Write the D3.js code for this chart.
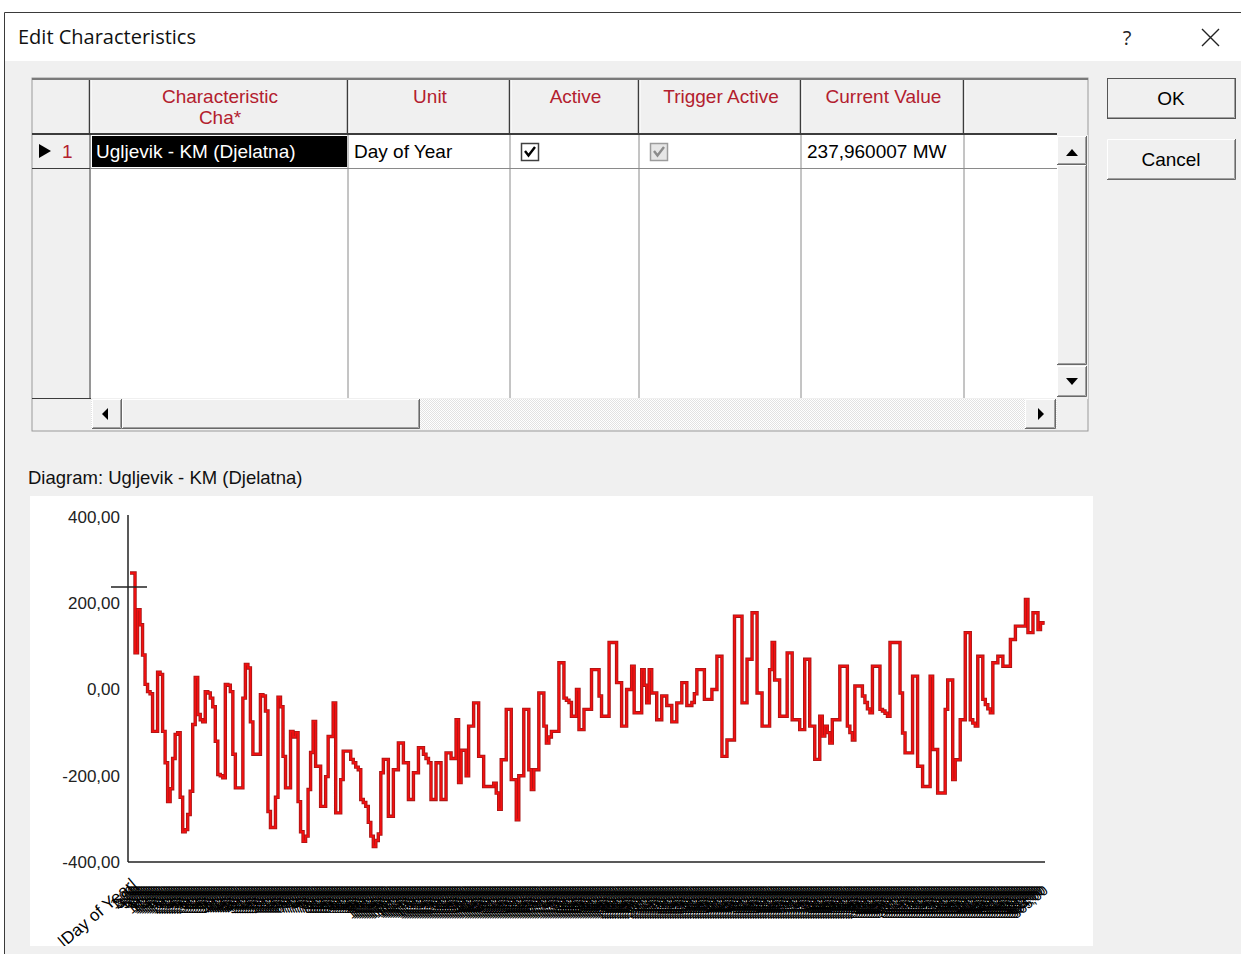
<!DOCTYPE html>
<html>
<head>
<meta charset="utf-8">
<script src="https://cdn.jsdelivr.net/npm/d3@7"></script>
<style>
  body { margin: 0; background: #ffffff; }
  svg { display: block; }
  .ui { font-family: "Liberation Sans", Arial, sans-serif; }
</style>
</head>
<body>
<script>
// dialog texts
var dialogTitle = "Edit Characteristics";
var headerLabels = [[""], ["Characteristic", "Cha*"], ["Unit"], ["Active"], ["Trigger Active"], ["Current Value"], [""]];
var rowCells = ["Ugljevik - KM (Djelatna)", "Day of Year", true, true, "237,960007 MW", ""];
var buttonLabels = ["OK", "Cancel"];
var diagramTitle = "Diagram: Ugljevik - KM (Djelatna)";
var xAxisTitle = "|Day of Year|";
var currentValue = 237.960007;

// chart values, one per day of year
var dayValues = [
  270, 270, 85, 185, 150, 80, 12, -5, -10, -97,
  -97, 40, 35, -97, -170, -260, -230, -160, -104, -100,
  -250, -330, -325, -290, -236, -81, 28, -58, -70, -75,
  -5, -8, -20, -40, -120, -197, -200, -205, 12, 10,
  -5, -150, -228, -228, -228, -20, 58, 50, -75, -150,
  -150, -150, -12, -15, -50, -283, -320, -320, -250, -18,
  -40, -155, -228, -228, -97, -110, -100, -260, -330, -352,
  -340, -232, -146, -74, -178, -178, -271, -271, -202, -109,
  -109, -31, -286, -286, -209, -143, -143, -143, -162, -170,
  -180, -186, -255, -262, -271, -308, -340, -364, -350, -335,
  -193, -162, -162, -294, -294, -186, -186, -124, -124, -170,
  -170, -255, -255, -193, -193, -135, -135, -150, -160, -170,
  -255, -255, -170, -170, -255, -255, -147, -147, -160, -160,
  -70, -216, -141, -141, -200, -85, -85, -31, -31, -155,
  -155, -225, -225, -225, -225, -217, -240, -278, -163, -163,
  -46, -46, -209, -209, -302, -200, -200, -46, -46, -186,
  -232, -186, -186, -8, -8, -85, -124, -110, -97, -97,
  -97, 62, 62, -20, -25, -30, -62, -62, 0, -93,
  -93, -46, -46, -46, 46, 46, 46, -15, -62, -62,
  -62, 109, 109, 109, 16, 16, -85, -85, 0, 0,
  54, -54, -54, -54, 46, 10, -31, 46, -8, -8,
  -70, -70, -15, -15, -37, -37, -75, -75, -31, -31,
  16, 16, -37, -37, -30, -10, 46, 46, 46, -23,
  -23, -23, 0, 0, 77, 77, -155, -155, -117, -117,
  -117, 170, 170, 170, -31, -31, 70, 70, 178, 178,
  -8, -8, -85, -85, -85, 46, 109, 22, 22, -62,
  -62, -62, 85, 85, -70, -70, -70, -93, -93, 70,
  70, -85, -85, -162, -162, -62, -108, -85, -100, -124,
  -70, -70, -70, 54, 54, 54, -85, -100, -117, 8,
  8, 8, -15, -30, -45, -54, 54, 54, 54, -46,
  -50, -55, -62, 109, 109, 109, 109, -8, -101, -147,
  -147, -147, 31, 31, -178, -178, -225, -225, -225, 31,
  -139, -139, -240, -240, -240, -46, 22, 22, -209, -163,
  -163, -70, -70, 132, 132, -70, -78, -85, 77, 77,
  -23, -35, -45, -54, 62, 62, 77, 77, 54, 54,
  54, 116, 116, 147, 147, 147, 147, 209, 132, 132,
  178, 178, 139, 155, 150
];
var days = dayValues.map(function (v, i) { return i + 1; });
var yTicks = [-400, -200, 0, 200, 400];

var W = 1241, H = 954;
var ui = "'Liberation Sans', Arial, sans-serif";

var svg = d3.select("body").append("svg")
    .attr("width", W)
    .attr("height", H);
var defs = svg.append("defs");

// ---------- window frame ----------
svg.append("rect").attr("x", 0).attr("y", 0).attr("width", W).attr("height", H).attr("fill", "#ffffff");
svg.append("rect").attr("x", 5).attr("y", 61).attr("width", W - 5).attr("height", H - 61).attr("fill", "#f0f0f0");
svg.append("line").attr("x1", 4.5).attr("x2", W).attr("y1", 12.5).attr("y2", 12.5).attr("stroke", "#3a3a3a");
svg.append("line").attr("x1", 4.5).attr("x2", 4.5).attr("y1", 12.5).attr("y2", H).attr("stroke", "#3a3a3a");

svg.append("text")
    .attr("x", 18).attr("y", 44)
    .attr("font-family", "'Open Sans', 'Noto Sans', sans-serif")
    .attr("font-size", 20)
    .attr("fill", "#111")
    .text(dialogTitle);
svg.append("text")
    .attr("x", 1127).attr("y", 45)
    .attr("text-anchor", "middle")
    .attr("font-family", "'Open Sans', sans-serif")
    .attr("font-size", 20)
    .attr("fill", "#222")
    .text("?");
svg.append("path")
    .attr("d", "M1202,29L1219,46M1219,29L1202,46")
    .attr("stroke", "#222").attr("stroke-width", 1.4);

// 3D raised box helper
function raised(g, x, y, w, h) {
    g.append("rect").attr("x", x).attr("y", y).attr("width", w).attr("height", h).attr("fill", "#f0f0f0");
    g.append("path").attr("d", "M" + (x + 0.5) + "," + (y + h - 1) + "V" + (y + 0.5) + "H" + (x + w - 1))
        .attr("fill", "none").attr("stroke", "#ffffff");
    g.append("path").attr("d", "M" + (x + 1) + "," + (y + h - 1.5) + "H" + (x + w - 1.5) + "V" + (y + 1))
        .attr("fill", "none").attr("stroke", "#a0a0a0");
    g.append("path").attr("d", "M" + x + "," + (y + h - 0.5) + "H" + (x + w - 0.5) + "V" + y)
        .attr("fill", "none").attr("stroke", "#696969");
}

// ---------- grid table ----------
var colEdges = [32, 91, 349, 511, 640, 802, 965, 1088];
var table = svg.append("g").attr("class", "ui");
var headTop = 80, headBottom = 134, rowBottom = 168, dataBottom = 398, tableBottom = 431;

table.append("rect").attr("x", 32).attr("y", 78).attr("width", 1056).attr("height", tableBottom - 78)
    .attr("fill", "#f0f0f0").attr("stroke", "#9a9a9a");
table.append("line").attr("x1", 32).attr("x2", 1088).attr("y1", 79).attr("y2", 79)
    .attr("stroke", "#7a7a7a").attr("stroke-width", 2);
table.append("rect").attr("x", 91).attr("y", headBottom).attr("width", 1057 - 91).attr("height", dataBottom - headBottom)
    .attr("fill", "#ffffff");

// header cells
headerLabels.forEach(function (lines, i) {
    var x0 = colEdges[i], x1 = colEdges[i + 1];
    var cx = (x0 + x1) / 2;
    lines.forEach(function (t, j) {
        table.append("text")
            .attr("x", cx).attr("y", 103 + j * 21)
            .attr("text-anchor", "middle")
            .attr("font-size", 19)
            .attr("fill", "#b3202e")
            .text(t);
    });
});
colEdges.slice(1, -1).forEach(function (x) {
    table.append("line").attr("x1", x - 1.5).attr("x2", x - 1.5).attr("y1", headTop).attr("y2", headBottom)
        .attr("stroke", "#3c3c3c").attr("stroke-width", 1.5);
    table.append("line").attr("x1", x).attr("x2", x).attr("y1", headTop).attr("y2", headBottom)
        .attr("stroke", "#ffffff");
    table.append("line").attr("x1", x - 1).attr("x2", x - 1).attr("y1", headBottom).attr("y2", dataBottom)
        .attr("stroke", x === 91 ? "#3c3c3c" : "#8a8a8a");
});
table.append("line").attr("x1", 32).attr("x2", 1057).attr("y1", headBottom).attr("y2", headBottom)
    .attr("stroke", "#3c3c3c").attr("stroke-width", 2);
table.append("line").attr("x1", 32).attr("x2", 1057).attr("y1", rowBottom + 0.5).attr("y2", rowBottom + 0.5)
    .attr("stroke", "#8a8a8a");
table.append("line").attr("x1", 32).attr("x2", 90).attr("y1", rowBottom + 0.5).attr("y2", rowBottom + 0.5)
    .attr("stroke", "#3c3c3c");

// row header
table.append("path").attr("d", "M39,144L51,151L39,158Z").attr("fill", "#000");
table.append("text").attr("x", 62).attr("y", 158).attr("font-size", 19).attr("fill", "#b3202e").text("1");

// data row
function checkbox(x, y, enabled) {
    var c = enabled ? "#000" : "#8c8c8c";
    table.append("rect").attr("x", x + 0.5).attr("y", y + 0.5).attr("width", 17).attr("height", 17)
        .attr("fill", enabled ? "#ffffff" : "#e6e6e6").attr("stroke", enabled ? "#404040" : "#9c9c9c").attr("stroke-width", 1.5);
    table.append("path").attr("d", "M" + (x + 4) + "," + (y + 8) + "L" + (x + 7.5) + "," + (y + 12.5) + "L" + (x + 14) + "," + (y + 4))
        .attr("fill", "none").attr("stroke", c).attr("stroke-width", 2.4);
}
rowCells.forEach(function (v, i) {
    var x0 = colEdges[i + 1];
    if (v === true) {
        checkbox(x0 + 10, 143, i === 2);
    } else if (i === 0) {
        table.append("rect").attr("x", x0 + 1).attr("y", 136).attr("width", colEdges[i + 2] - x0 - 3).attr("height", 31)
            .attr("fill", "#000");
        table.append("text").attr("x", x0 + 5).attr("y", 158).attr("font-size", 19).attr("fill", "#fff").text(v);
    } else if (v !== "") {
        table.append("text").attr("x", x0 + 5).attr("y", 158).attr("font-size", 19).attr("fill", "#000").text(v);
    }
});

// vertical scrollbar
table.append("rect").attr("x", 1057).attr("y", headBottom + 1).attr("width", 31).attr("height", dataBottom - headBottom).attr("fill", "#f0f0f0");
raised(table, 1057, 136, 30, 29);
raised(table, 1057, 165, 30, 200);
raised(table, 1057, 366, 30, 31);
table.append("path").attr("d", "M1066,156L1072,149L1078,156Z").attr("fill", "#000");
table.append("path").attr("d", "M1066,378L1072,385L1078,378Z").attr("fill", "#000");

// horizontal scrollbar
var dither = defs.append("pattern")
    .attr("id", "dither").attr("width", 2).attr("height", 2).attr("patternUnits", "userSpaceOnUse");
dither.append("rect").attr("width", 2).attr("height", 2).attr("fill", "#ffffff");
dither.append("rect").attr("width", 1).attr("height", 1).attr("fill", "#e2e2e2");
dither.append("rect").attr("x", 1).attr("y", 1).attr("width", 1).attr("height", 1).attr("fill", "#e2e2e2");
table.append("rect").attr("x", 91).attr("y", 399).attr("width", 966).attr("height", 30).attr("fill", "url(#dither)");
raised(table, 92, 399, 30, 30);
raised(table, 122, 399, 298, 30);
raised(table, 1025, 399, 31, 30);
table.append("path").attr("d", "M108,408L102,414L108,420Z").attr("fill", "#000");
table.append("path").attr("d", "M1038,408L1044,414L1038,420Z").attr("fill", "#000");
table.append("line").attr("x1", 32).attr("x2", 91).attr("y1", dataBottom + 0.5).attr("y2", dataBottom + 0.5).attr("stroke", "#3c3c3c");

// ---------- buttons ----------
var buttons = svg.append("g").attr("class", "ui");
buttonLabels.forEach(function (t, i) {
    var by = i === 0 ? 78 : 139;
    raised(buttons, 1107, by, 129, 41);
    if (i === 0) {
        buttons.append("rect").attr("x", 1107.5).attr("y", by + 0.5).attr("width", 128).attr("height", 40)
            .attr("fill", "none").attr("stroke", "#555");
    }
    buttons.append("text").attr("x", 1171).attr("y", by + 27)
        .attr("text-anchor", "middle").attr("font-size", 19).attr("fill", "#000").text(t);
});

// ---------- diagram ----------
svg.append("text").attr("class", "ui")
    .attr("x", 28).attr("y", 484)
    .attr("font-size", 18.5).attr("fill", "#111")
    .text(diagramTitle);

var panel = { x: 30, y: 496, w: 1063, h: 450 };
svg.append("rect").attr("x", panel.x).attr("y", panel.y).attr("width", panel.w).attr("height", panel.h).attr("fill", "#ffffff");
defs.append("clipPath").attr("id", "panelClip")
    .append("rect").attr("x", panel.x).attr("y", panel.y).attr("width", panel.w).attr("height", panel.h);

var x = d3.scaleLinear().domain([1, 365]).range([130, 1043]);
var y = d3.scaleLinear().domain([-400, 400]).range([862, 517]);

var yAxis = d3.axisLeft(y)
    .tickValues(yTicks)
    .tickSize(0)
    .tickPadding(8)
    .tickFormat(function (d) { return d3.format(".2f")(d).replace(".", ",").replace("\u2212", "-"); });

var gy = svg.append("g").attr("transform", "translate(128,0)").call(yAxis);
gy.select(".domain").attr("stroke", "#222").attr("stroke-width", 1.5).attr("d", "M0,515V862");
gy.selectAll(".tick text").attr("font-family", ui).attr("font-size", 17).attr("fill", "#222");

svg.append("line")
    .attr("x1", 128).attr("x2", x.range()[1] + 2)
    .attr("y1", y(-400)).attr("y2", y(-400))
    .attr("stroke", "#222").attr("stroke-width", 1.5);

// dense day labels along the x axis
var xl = svg.append("g").attr("clip-path", "url(#panelClip)")
    .attr("font-family", ui).attr("fill", "#000");
xl.selectAll("text.day")
    .data(days)
    .join("text")
    .attr("class", "day")
    .attr("font-size", 14)
    .attr("text-anchor", "end")
    .attr("transform", function (d) { return "translate(" + (x(d) + 6) + ",892) rotate(-40)"; })
    .text(function (d) { return d + ",00"; });
xl.append("text")
    .attr("font-size", 17)
    .attr("text-anchor", "end")
    .attr("transform", "translate(138,886) rotate(-40)")
    .text(xAxisTitle);

// series
var line = d3.line()
    .x(function (d, i) { return x(days[i]); })
    .y(function (d) { return y(d); })
    .curve(d3.curveStepAfter);

svg.append("path")
    .datum(dayValues)
    .attr("fill", "none")
    .attr("stroke", "#a31616")
    .attr("stroke-width", 3.4)
    .attr("d", line);
svg.append("path")
    .datum(dayValues)
    .attr("fill", "none")
    .attr("stroke", "#f21010")
    .attr("stroke-width", 1.8)
    .attr("d", line);

// current value marker
svg.append("line")
    .attr("x1", x(1) - 19).attr("x2", x(1) + 17)
    .attr("y1", y(currentValue)).attr("y2", y(currentValue))
    .attr("stroke", "#222").attr("stroke-width", 1.5);
</script>
</body>
</html>
